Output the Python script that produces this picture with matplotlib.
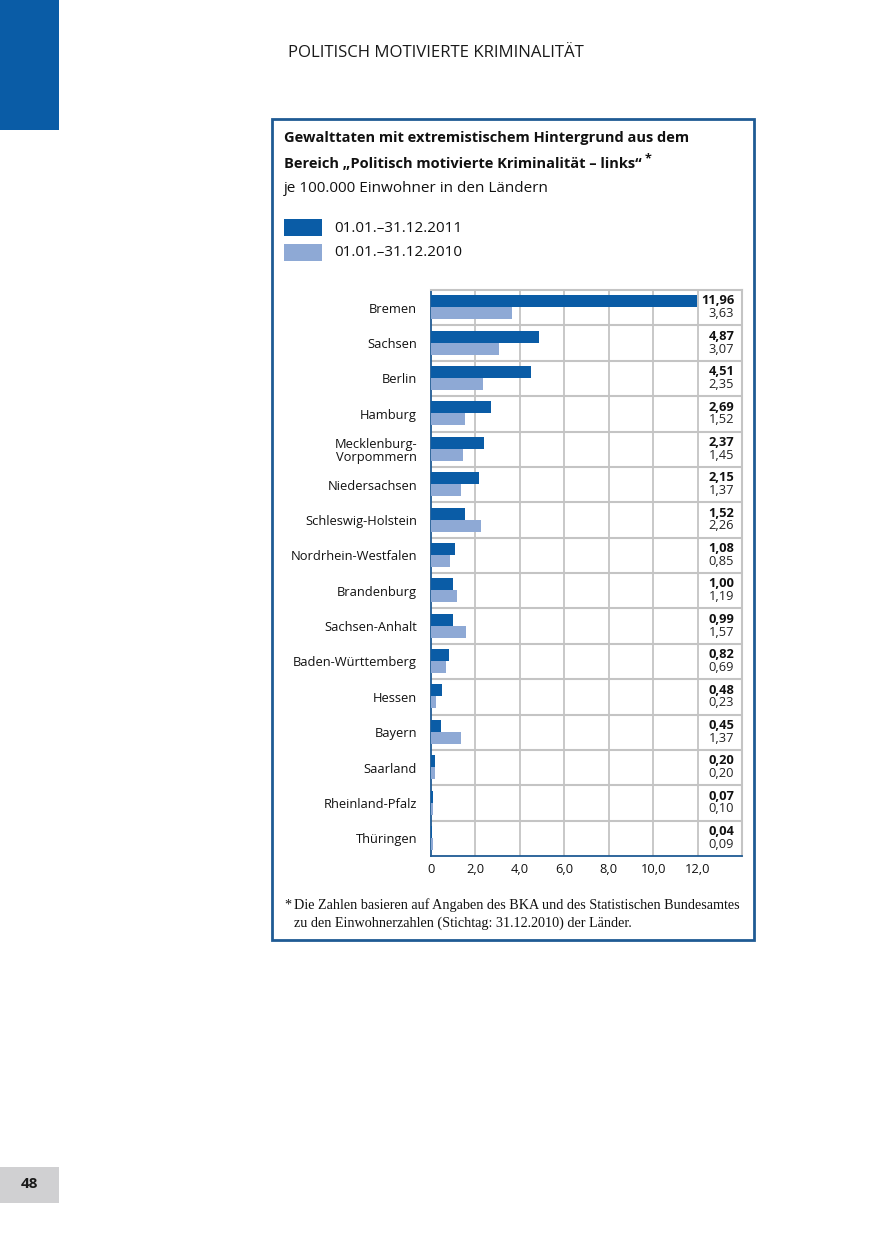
import matplotlib
matplotlib.use("Agg")
import matplotlib.pyplot as plt
from matplotlib.patches import Rectangle

# Daten
laender = ["Bremen", "Sachsen", "Berlin", "Hamburg", "Mecklenburg-\nVorpommern",
           "Niedersachsen", "Schleswig-Holstein", "Nordrhein-Westfalen", "Brandenburg",
           "Sachsen-Anhalt", "Baden-Württemberg", "Hessen", "Bayern", "Saarland",
           "Rheinland-Pfalz", "Thüringen"]
werte_2011 = [11.96, 4.87, 4.51, 2.69, 2.37, 2.15, 1.52, 1.08, 1.00, 0.99, 0.82,
              0.48, 0.45, 0.20, 0.07, 0.04]
werte_2010 = [3.63, 3.07, 2.35, 1.52, 1.45, 1.37, 2.26, 0.85, 1.19, 1.57, 0.69,
              0.23, 1.37, 0.20, 0.10, 0.09]
x_ticks = [0, 2, 4, 6, 8, 10, 12]
x_ticklabels = ["0", "2,0", "4,0", "6,0", "8,0", "10,0", "12,0"]
legende = ["01.01.\u201331.12.2011", "01.01.\u201331.12.2010"]

DUNKEL = "#0a5ca6"
HELL = "#8ea9d5"
RAHMEN = "#1f5b94"
GRAU = "#c4c4c4"

W, H = 875, 1241
plt.rcParams['font.family'] = ['Open Sans', 'DejaVu Sans']

fig = plt.figure(figsize=(W / 100, H / 100), dpi=100)


def fx(px):
    return px / W


def fy(py):
    return 1 - py / H


def rect_px(x0, y0, x1, y1, **kw):
    fig.patches.append(Rectangle((fx(x0), fy(y1)), fx(x1 - x0), (y1 - y0) / H,
                                 transform=fig.transFigure, **kw))


# Kopfzeile und Seitenelemente
rect_px(0, 0, 59, 130, color=DUNKEL, lw=0)
fig.text(fx(436), fy(53), "POLITISCH MOTIVIERTE KRIMINALITÄT", ha="center", va="center",
         fontsize=12.1, color="#1a1a1a")
rect_px(0, 1167, 59, 1203, color="#d0d0d2", lw=0)
fig.text(fx(29), fy(1184), "48", ha="center", va="center", fontsize=11,
         fontweight="bold", color="#1a1a1a")

# Rahmen
rect_px(272, 119, 754, 940, fill=False, edgecolor=RAHMEN, lw=2)

fig.text(fx(284), fy(138), "Gewalttaten mit extremistischem Hintergrund aus dem",
         ha="left", va="center", fontsize=10.5, fontweight="bold", color="#111111")
t2 = fig.text(fx(284), fy(164),
              "Bereich \u201ePolitisch motivierte Kriminalität \u2013 links\u201c",
              ha="left", va="center", fontsize=10.5, fontweight="bold", color="#111111")
fig.text(fx(284), fy(189), "je 100.000 Einwohner in den Ländern", ha="left", va="center",
         fontsize=11, color="#111111")

# Legende
for i, (farbe, text) in enumerate(zip([DUNKEL, HELL], legende)):
    y0 = 219 + i * 25
    rect_px(284, y0, 322, y0 + 17, color=farbe, lw=0)
    fig.text(fx(334), fy(y0 + 9), text, ha="left", va="center", fontsize=11,
             color="#111111")

# Diagramm
ax = fig.add_axes([fx(431), fy(856), fx(742 - 431), (856 - 290) / H])
ax.annotate("*", xy=(1, 1), xycoords=t2, xytext=(2, 3), textcoords="offset points",
            ha="left", va="top", fontsize=9, fontweight="bold", color="#111111",
            annotation_clip=False)
n = len(laender)
pos = list(range(n))
h = 0.34
ax.barh([p - h / 2 - 0.01 for p in pos], werte_2011, height=h, color=DUNKEL, zorder=3)
ax.barh([p + h / 2 - 0.01 for p in pos], werte_2010, height=h, color=HELL, zorder=3)

ax.set_xlim(0, 14)
ax.set_ylim(n - 0.5, -0.5)
for x in x_ticks[1:]:
    ax.axvline(x, color=GRAU, lw=1.3, zorder=1)
for k in range(n - 1):
    ax.axhline(k + 0.5, color=GRAU, lw=1.5, zorder=1)

for p, a, b in zip(pos, werte_2011, werte_2010):
    ax.text(13.65, p - 0.19, f"{a:.2f}".replace(".", ","), ha="right", va="center",
            fontsize=9.3, fontweight="bold", color="#111111")
    ax.text(13.65, p + 0.17, f"{b:.2f}".replace(".", ","), ha="right", va="center",
            fontsize=9.3, color="#222222")

ax.set_yticks(pos)
ax.set_yticklabels(laender, fontsize=9.3, color="#111111", linespacing=1.05)
ax.set_xticks(x_ticks)
ax.set_xticklabels(x_ticklabels, fontsize=9.3, color="#111111")
ax.tick_params(length=0, pad=5)
ax.tick_params(axis="y", pad=10)
ax.spines["left"].set_color(RAHMEN)
ax.spines["bottom"].set_color(RAHMEN)
ax.spines["left"].set_linewidth(1.3)
ax.spines["bottom"].set_linewidth(1.3)
for s in ["top", "right"]:
    ax.spines[s].set_color(GRAU)
    ax.spines[s].set_linewidth(1.5)

# Fussnote
fig.text(fx(284), fy(905), "*", ha="left", va="center", fontsize=10.2,
         family="Liberation Serif", color="#111111")
fig.text(fx(294), fy(905),
         "Die Zahlen basieren auf Angaben des BKA und des Statistischen Bundesamtes",
         ha="left", va="center", fontsize=10.2, family="Liberation Serif", color="#111111")
fig.text(fx(294), fy(923), "zu den Einwohnerzahlen (Stichtag: 31.12.2010) der Länder.",
         ha="left", va="center", fontsize=10.2, family="Liberation Serif", color="#111111")

fig.savefig("out.png", dpi=100, facecolor="white")
